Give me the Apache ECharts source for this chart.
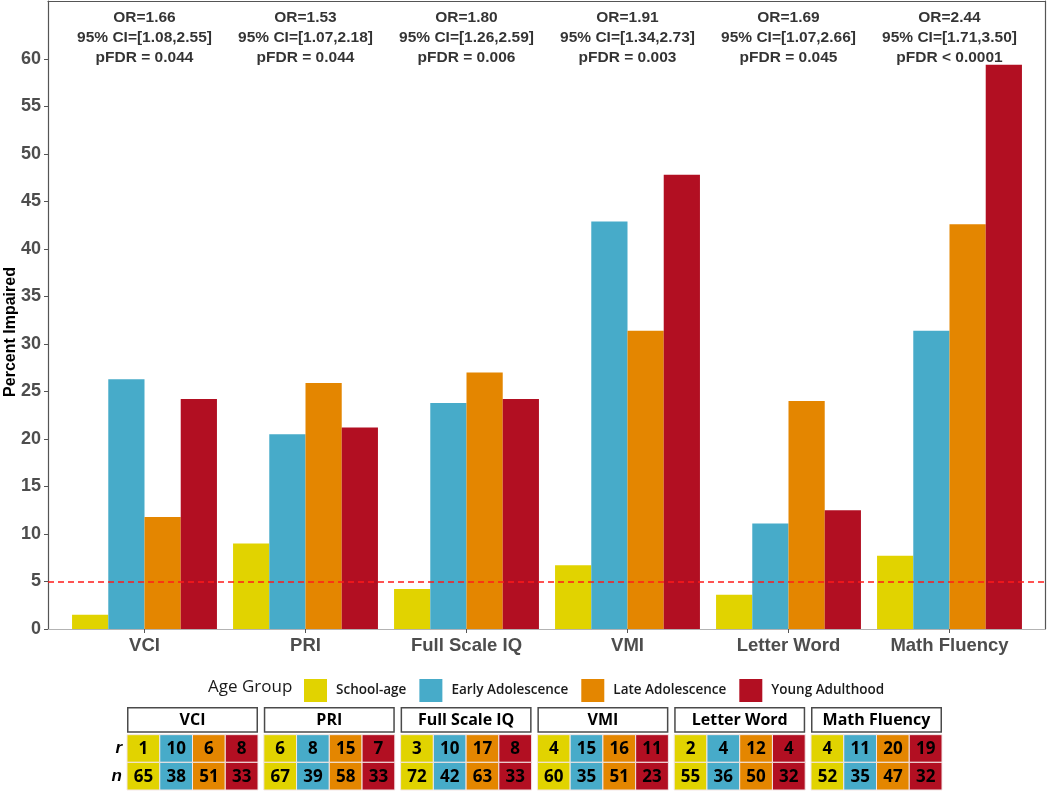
<!DOCTYPE html>
<html>
<head>
<meta charset="utf-8">
<script src="https://cdn.jsdelivr.net/npm/echarts@6/dist/echarts.min.js"></script>
<style>html,body{margin:0;padding:0;background:#fff}#c{width:1050px;height:791px}</style>
</head>
<body>
<div id="c"></div>
<script>
const categories = ['VCI', 'PRI', 'Full Scale IQ', 'VMI', 'Letter Word', 'Math Fluency'];
const groups = ['School-age', 'Early Adolescence', 'Late Adolescence', 'Young Adulthood'];
const schoolAge  = [1.5, 9.0, 4.2, 6.7, 3.6, 7.7];
const earlyAdol  = [26.3, 20.5, 23.8, 42.9, 11.1, 31.4];
const lateAdol   = [11.8, 25.9, 27.0, 31.4, 24.0, 42.6];
const youngAdult = [24.2, 21.2, 24.2, 47.8, 12.5, 59.4];
const orValues = ['1.66', '1.53', '1.80', '1.91', '1.69', '2.44'];
const ciLow    = ['1.08', '1.07', '1.26', '1.34', '1.07', '1.71'];
const ciHigh   = ['2.55', '2.18', '2.59', '2.73', '2.66', '3.50'];
const pfdrText = ['= 0.044', '= 0.044', '= 0.006', '= 0.003', '= 0.045', '< 0.0001'];
const rCounts = [[1, 10, 6, 8], [6, 8, 15, 7], [3, 10, 17, 8], [4, 15, 16, 11], [2, 4, 12, 4], [4, 11, 20, 19]];
const nCounts = [[65, 38, 51, 33], [67, 39, 58, 33], [72, 42, 63, 33], [60, 35, 51, 23], [55, 36, 50, 32], [52, 35, 47, 32]];
const yTickValues = [0, 5, 10, 15, 20, 25, 30, 35, 40, 45, 50, 55, 60];
const rowLabels = ['n', 'r', 'hdr'];
const threshold = 5;
const annotationY = 62.2;

const colors = ['#E1D300', '#47ABC9', '#E48600', '#B20F22'];
const seriesValues = [schoolAge, earlyAdol, lateAdol, youngAdult];
const FONT = '"Liberation Sans", Arial, sans-serif';
const YMAX = 66.1;

const chart = echarts.init(document.getElementById('c'), null, {renderer: 'canvas'});

const grids = [
  {left: 48, top: 1, width: 997, height: 628, outerBoundsMode: 'none', containLabel: false},   // frame grid
  {left: 64, top: 1, width: 966, height: 628, outerBoundsMode: 'none', containLabel: false}    // bar grid
];
const xAxes = [
  {gridIndex: 0, type: 'value', min: 0, max: 1, position: 'bottom',
   axisLine: {show: true, onZero: false, lineStyle: {color: '#b3b3b3', width: 1.2}}, axisTick: {show: false}, axisLabel: {show: false}, splitLine: {show: false}},
  {gridIndex: 0, type: 'value', min: 0, max: 1, position: 'top',
   axisLine: {show: true, onZero: false, lineStyle: {color: '#555', width: 1.2}}, axisTick: {show: false}, axisLabel: {show: false}, splitLine: {show: false}},
  {gridIndex: 1, type: 'category', data: categories, boundaryGap: true,
   axisLine: {show: false}, axisTick: {show: true, alignWithLabel: true, length: 4, lineStyle: {color: '#555'}},
   axisLabel: {fontFamily: FONT, fontSize: 18.5, fontWeight: 'bold', color: '#4d4d4d', margin: 7}, splitLine: {show: false}}
];
const yAxes = [
  {gridIndex: 0, type: 'value', min: 0, max: YMAX, position: 'left',
   name: 'Percent Impaired', nameLocation: 'middle', nameGap: 29, nameMoveOverlap: false,
   nameTextStyle: {fontFamily: FONT, fontSize: 16, fontWeight: 'bold', color: '#000', padding: [0, 34, 0, 0]},
   axisLine: {show: true, onZero: false, lineStyle: {color: '#555', width: 1.2}},
   axisTick: {show: true, length: 4, customValues: yTickValues, lineStyle: {color: '#555'}},
   axisLabel: {customValues: yTickValues, fontFamily: FONT, fontSize: 18, fontWeight: 'bold', color: '#4d4d4d', margin: 7},
   splitLine: {show: false}},
  {gridIndex: 0, type: 'value', min: 0, max: YMAX, position: 'right',
   axisLine: {show: true, onZero: false, lineStyle: {color: '#555', width: 1.2}}, axisTick: {show: false}, axisLabel: {show: false}, splitLine: {show: false}},
  {gridIndex: 1, type: 'value', min: 0, max: YMAX, show: false, splitLine: {show: false}}
];

const series = [];
// threshold line across the full panel
series.push({
  type: 'line', name: 'threshold', xAxisIndex: 0, yAxisIndex: 0, data: [], silent: true, z: 5,
  markLine: {symbol: 'none', silent: true, label: {show: false}, z: 5,
    lineStyle: {color: '#ff1a1a', type: [6, 4], width: 1.5},
    data: [{yAxis: threshold}]}
});
groups.forEach((g, i) => {
  series.push({
    type: 'bar', name: g, xAxisIndex: 2, yAxisIndex: 2,
    data: seriesValues[i], barGap: '0%', barCategoryGap: '10%',
    itemStyle: {color: colors[i]}, z: 2
  });
});

// annotations
series.push({
  type: 'scatter', name: 'annot', xAxisIndex: 2, yAxisIndex: 2, symbolSize: 0, silent: true,
  data: categories.map((c, i) => [i, annotationY]),
  label: {show: true, position: 'inside', fontFamily: FONT, fontSize: 15.5, fontWeight: 'bold', color: '#000',
    lineHeight: 20, align: 'center', verticalAlign: 'middle',
    formatter: p => 'OR=' + orValues[p.dataIndex] + '\n95% CI=[' + ciLow[p.dataIndex] + ',' + ciHigh[p.dataIndex] + ']\npFDR ' + pfdrText[p.dataIndex]}
});

// tables
const panelLeft0 = 127, panelStep = 136.8, panelW = 131;
categories.forEach((cat, p) => {
  const gi = grids.length;
  grids.push({left: panelLeft0 + p * panelStep, top: 707, width: panelW, height: 83, outerBoundsMode: 'none', containLabel: false});
  const xi = xAxes.length, yi = yAxes.length;
  xAxes.push({gridIndex: gi, type: 'category', data: groups, show: false});
  yAxes.push({gridIndex: gi, type: 'category', data: rowLabels,
    axisLine: {show: false}, axisTick: {show: false}, splitLine: {show: false},
    axisLabel: {show: p === 0, margin: 5, fontFamily: FONT, fontSize: 17, fontStyle: 'italic', fontWeight: 'bold', color: '#000',
      formatter: v => v === 'hdr' ? '' : v}});
  const items = [{kind: 'hdr', col: 1.5, row: 2, label: cat}];
  groups.forEach((g, c) => {
    items.push({kind: 'cell', col: c, row: 1, label: String(rCounts[p][c]), color: colors[c]});
    items.push({kind: 'cell', col: c, row: 0, label: String(nCounts[p][c]), color: colors[c]});
  });
  series.push({
    type: 'custom', name: 'table-' + cat, xAxisIndex: xi, yAxisIndex: yi, silent: true,
    data: items.map(it => [it.col, it.row]),
    renderItem: function (params, api) {
      const it = items[params.dataIndex];
      const s = api.size([1, 1]);
      if (it.kind === 'hdr') {
        const a = api.coord([0, 2]), b = api.coord([3, 2]);
        const x0 = a[0] - s[0] / 2, x1 = b[0] + s[0] / 2, y0 = a[1] - s[1] / 2, h = s[1] - 2;
        return {type: 'group', children: [
          {type: 'rect', shape: {x: x0 + 0.75, y: y0 + 0.75, width: x1 - x0 - 1.5, height: h - 1.5},
           style: {fill: '#fff', stroke: '#4a4a4a', lineWidth: 1.5}},
          {type: 'text', style: {text: it.label, x: (x0 + x1) / 2, y: y0 + h / 2 + 1, align: 'center', verticalAlign: 'middle',
            font: 'bold 16px "Open Sans", sans-serif', fill: '#000'}}
        ]};
      }
      const c = api.coord([it.col, it.row]);
      return {type: 'group', children: [
        {type: 'rect', shape: {x: c[0] - s[0] / 2, y: c[1] - s[1] / 2, width: s[0], height: s[1]},
         style: {fill: it.color, stroke: '#f3e6e6', lineWidth: 1}},
        {type: 'text', style: {text: it.label, x: c[0], y: c[1] + 1, align: 'center', verticalAlign: 'middle',
          font: 'bold 17px "Open Sans", sans-serif', fill: '#000'}}
      ]};
    }
  });
});

chart.setOption({
  animation: false,
  backgroundColor: '#fff',
  textStyle: {fontFamily: FONT},
  title: {text: 'Age Group', left: 208, top: 679, padding: 0,
    textStyle: {fontFamily: '"Open Sans", sans-serif', fontSize: 17, fontWeight: 500, color: '#1a1a1a'}},
  legend: {data: groups, left: 304, top: 679, padding: 0, itemWidth: 23, itemHeight: 23, itemGap: 13, icon: 'rect',
    textStyle: {fontFamily: '"Open Sans", sans-serif', fontSize: 13.5, fontWeight: 600, color: '#1a1a1a', padding: [0, 0, 0, 4]}},
  grid: grids,
  xAxis: xAxes,
  yAxis: yAxes,
  series: series
});
</script>
</body>
</html>
